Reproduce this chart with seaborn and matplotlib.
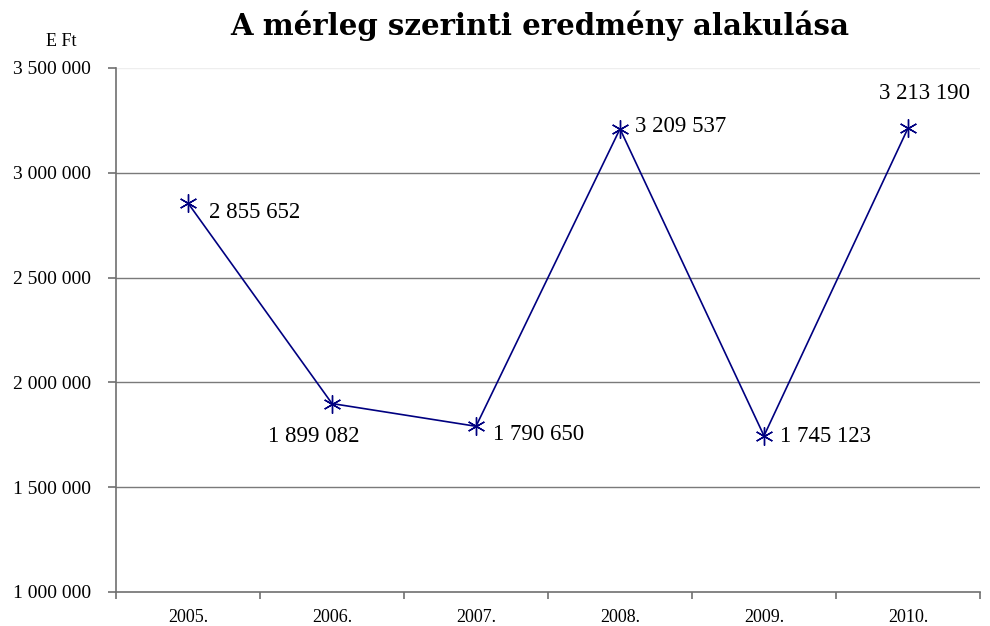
import matplotlib
matplotlib.use("Agg")
import matplotlib.pyplot as plt
import seaborn as sns
import pandas as pd
import numpy as np
from matplotlib.ticker import FixedLocator, FuncFormatter

years = ["2005.", "2006.", "2007.", "2008.", "2009.", "2010."]
values = [2855652, 1899082, 1790650, 3209537, 1745123, 3213190]
# label offsets (pixels) and alignment per point
label_offsets = [(21, -9), (-18, -33), (17, -8), (15, 2), (16, -1), (17, 35)]
label_ha = ["left", "center", "left", "left", "left", "center"]

sns.set_theme(style="white")
plt.rcParams['font.family'] = ['Liberation Serif', 'DejaVu Serif']
plt.rcParams['text.color'] = 'black'

df = pd.DataFrame({"year": years, "value": values})

fig = plt.figure(figsize=(9.9, 6.26), dpi=100)
ax = fig.add_axes([116/990, 1-592/626, (980-116)/990, (592-68)/626])

sns.lineplot(data=df, x="year", y="value", ax=ax, color="#000080", linewidth=1.2,
             marker=(6, 2, 0), markersize=13, markeredgewidth=1.0,
             markeredgecolor="#000080", sort=False)

ax.set_xlim(-0.5, len(years) - 0.5)
ax.set_ylim(1000000, 3500000)
ax.set_yticks(np.arange(1000000, 3500001, 500000))
ax.yaxis.set_major_formatter(FuncFormatter(lambda v, p: f"{int(v):,}".replace(",", " ")))

for yv in np.arange(1500000, 3000001, 500000):
    ax.axhline(yv, color="#7a7a7a", linewidth=1, zorder=0)
ax.axhline(3500000, color="#eeeeee", linewidth=1, zorder=0)

ax.set_xlabel("")
ax.set_ylabel("")
for s in ["top", "right"]:
    ax.spines[s].set_visible(False)
for s in ["left", "bottom"]:
    ax.spines[s].set_color("#707070")
    ax.spines[s].set_linewidth(1.2)

ax.xaxis.set_minor_locator(FixedLocator(np.arange(-0.5, len(years), 1.0)))
ax.tick_params(axis="x", which="major", length=0, pad=12, labelsize=13, colors="black")
ax.tick_params(axis="x", which="minor", length=5, width=1.2, color="#707070", direction="out", bottom=True)
ax.tick_params(axis="y", which="major", length=6, width=1.2, color="#707070", direction="out", left=True, labelsize=14, pad=12)
for lbl in ax.get_xticklabels() + ax.get_yticklabels():
    lbl.set_color("black")

for i, (v, off, ha) in enumerate(zip(values, label_offsets, label_ha)):
    ax.annotate(f"{v:,}".replace(",", " "), (i, v), xytext=off, textcoords="offset pixels",
                ha=ha, va="center", fontsize=16.5, color="black")

fig.text(61/990, 1-42/626, "E Ft", ha="center", va="center", fontsize=13, color="black")
fig.text(540/990, 1-26/626, "A mérleg szerinti eredmény alakulása", ha="center", va="center",
         fontsize=21, fontweight="heavy", family=["DejaVu Serif"], color="black")

fig.savefig("out.png", dpi=100)
